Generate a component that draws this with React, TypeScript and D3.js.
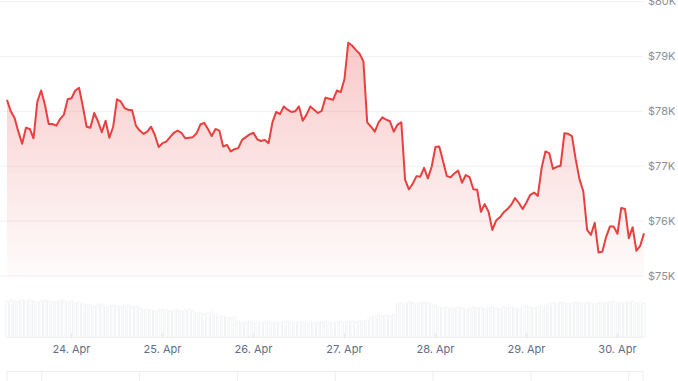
import React from "react";
import * as d3 from "d3";

// Hourly BTC price (thousand USD), starting 23 Apr 07:00 UTC
const startTime = Date.UTC(2025, 3, 23, 7);
const prices = [
  78.21, 78.0, 77.88, 77.63, 77.41, 77.7, 77.68, 77.51, 78.18, 78.38,
  78.12, 77.77, 77.77, 77.74, 77.86, 77.94, 78.22, 78.24, 78.38, 78.43,
  78.09, 77.72, 77.7, 77.97, 77.82, 77.62, 77.83, 77.52, 77.72, 78.22,
  78.18, 78.06, 78.03, 78.02, 77.74, 77.65, 77.59, 77.63, 77.72, 77.57,
  77.35, 77.42, 77.45, 77.53, 77.61, 77.65, 77.61, 77.51, 77.52, 77.53,
  77.6, 77.76, 77.79, 77.68, 77.55, 77.68, 77.65, 77.36, 77.39, 77.27,
  77.31, 77.33, 77.48, 77.53, 77.58, 77.61, 77.49, 77.46, 77.48, 77.42,
  77.8, 77.99, 77.95, 78.09, 78.03, 77.99, 78.0, 78.09, 77.83, 77.94,
  78.09, 78.03, 77.97, 78.01, 78.25, 78.23, 78.21, 78.38, 78.35, 78.59,
  79.25, 79.2, 79.12, 79.05, 78.91, 77.8, 77.72, 77.63, 77.8, 77.89,
  77.85, 77.82, 77.63, 77.76, 77.8, 76.75, 76.58, 76.68, 76.82, 76.81,
  76.97, 76.78, 76.99, 77.35, 77.36, 77.09, 76.82, 76.8, 76.87, 76.92,
  76.7, 76.84, 76.8, 76.58, 76.57, 76.17, 76.31, 76.17, 75.84, 76.01,
  76.07, 76.16, 76.22, 76.3, 76.42, 76.33, 76.22, 76.34, 76.48, 76.52,
  76.46, 76.97, 77.27, 77.24, 76.95, 76.99, 77.01, 77.6, 77.59, 77.55,
  77.12, 76.76, 76.54, 75.84, 75.75, 75.97, 75.43, 75.44, 75.71, 75.9,
  75.9, 75.77, 76.24, 76.22, 75.69, 75.89, 75.46, 75.55, 75.78,
];

// Hourly volume (relative units)
const volumes = [
  36, 37, 36, 35, 37, 36, 37, 36, 35, 36, 37, 36, 35, 36, 36, 37, 35, 36, 34, 35,
  33, 32, 33, 31, 32, 33, 30, 31, 32, 31, 30, 31, 32, 30, 31, 29,
  27, 28, 27, 26, 27, 28, 27, 26, 27, 27, 26, 27, 28, 26,
  24, 24, 23, 24, 25, 23,
  20, 21, 20, 19, 20,
  15, 14, 15, 15, 14, 15, 14, 15, 15, 14, 15, 14, 15, 16, 15, 14, 15, 15, 14, 15, 14, 15, 15, 16, 15, 14,
  15, 16, 15, 15, 16, 15, 16, 16, 17,
  20, 21, 22, 21, 22, 21, 23,
  33, 34, 33, 35, 34, 33, 34, 35, 34, 33, 32,
  30, 29, 30, 28, 29, 30, 29, 28, 29, 30, 29, 30, 28, 29, 30, 29, 28, 30, 29, 30, 29, 28, 30, 31, 30, 29, 30, 31, 30,
  33, 34, 33, 35, 34, 33, 34, 35, 34, 33, 35, 34, 33, 34, 35, 34, 35, 36, 34, 35, 34, 35, 36, 34, 35, 34,
];

const priceTicks = [75, 76, 77, 78, 79, 80];
const dayTicks = [24, 25, 26, 27, 28, 29, 30].map((d) => new Date(Date.UTC(2025, 3, d)));
const navDomain = [Date.UTC(2025, 3, 23, 15, 30), Date.UTC(2025, 3, 30, 3, 30)];

const W = 678;
const H = 381;
const RED = "#e8403f";

export default function App() {
  const data = prices.map((p, i) => ({ t: new Date(startTime + i * 3600000), p, v: volumes[i] }));
  const x = d3.scaleUtc().domain(d3.extent(data, (d) => d.t) as [Date, Date]).range([7, 644]);
  const y = d3.scaleLinear().domain([75, 80]).range([276, 1.6]);
  const yv = d3.scaleLinear().domain([0, 40]).range([337, 297]);
  const xn = d3.scaleUtc().domain(navDomain).range([7, 643]);

  const line = d3.line<any>().x((d) => x(d.t)).y((d) => y(d.p)).curve(d3.curveLinear);
  const area = d3.area<any>().x((d) => x(d.t)).y0(y(75)).y1((d) => y(d.p));
  const fmt = d3.utcFormat("%-d. %b");
  const barW = 2.4;
  const top = y(d3.max(prices) as number);

  return (
    <svg
      width={W}
      height={H}
      style={{ position: "absolute", left: 0, top: 0, display: "block", fontFamily: "Inter, 'Noto Sans', sans-serif" }}
    >
      <defs>
        <linearGradient id="fillGrad" gradientUnits="userSpaceOnUse" x1="0" y1={top} x2="0" y2={y(75)}>
          <stop offset="0" stopColor={RED} stopOpacity={0.28} />
          <stop offset="1" stopColor={RED} stopOpacity={0.02} />
        </linearGradient>
      </defs>
      {priceTicks.map((t) => (
        <g key={t}>
          <line x1={0} x2={643} y1={y(t)} y2={y(t)} stroke="#f0f1f3" strokeWidth={1} />
          <text x={648} y={y(t)} dy="0.35em" fontSize={11} fill="#8a8f99">
            {`$${t}K`}
          </text>
        </g>
      ))}
      <path d={area(data) as string} fill="url(#fillGrad)" />
      <path d={line(data) as string} fill="none" stroke={RED} strokeWidth={2} strokeLinejoin="round" />

      {data.map((d, i) => (
        <rect
          key={i}
          x={x(d.t) - barW / 2}
          y={yv(d.v)}
          width={barW}
          height={yv(0) - yv(d.v)}
          fill="#ffffff"
          stroke="#eceef0"
          strokeWidth={0.7}
        />
      ))}
      <line x1={7} x2={643} y1={337.5} y2={337.5} stroke="#f0f1f3" />
      {dayTicks.map((d, i) => (
        <g key={i}>
          <line x1={x(d)} x2={x(d)} y1={333} y2={338} stroke="#e6e8eb" />
          <text x={x(d)} y={349} dy="0.35em" textAnchor="middle" fontSize={11} fill="#616e85">
            {fmt(d)}
          </text>
        </g>
      ))}

      <rect x={7} y={371.5} width={636} height={20} fill="none" stroke="#eceef1" />
      {dayTicks.map((d, i) => (
        <line key={i} x1={xn(d)} x2={xn(d)} y1={372} y2={H} stroke="#eceef1" />
      ))}
    </svg>
  );
}
